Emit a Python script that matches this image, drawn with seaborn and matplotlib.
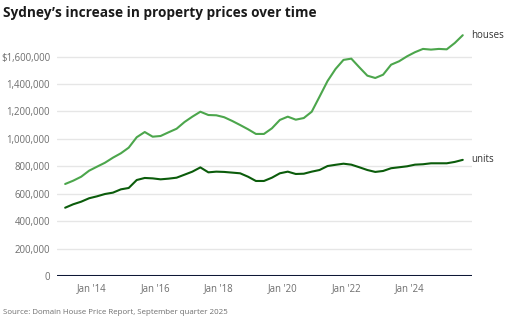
import matplotlib
matplotlib.use("Agg")
import matplotlib.pyplot as plt
import matplotlib.dates as mdates
import matplotlib.ticker as mticker
import numpy as np
import pandas as pd
import seaborn as sns

# Quarterly median prices, March 2013 to September 2025
quarters = pd.date_range("2013-03-01", "2025-09-01", freq="3MS")

houses = [
    671000, 695000, 724000, 768000, 797000, 826000, 863000, 895000,
    936000, 1012000, 1050000, 1016000, 1021000, 1048000, 1074000, 1123000,
    1162000, 1198000, 1174000, 1172000, 1158000, 1131000, 1101000, 1070000,
    1036000, 1036000, 1077000, 1138000, 1162000, 1140000, 1152000, 1198000,
    1308000, 1422000, 1510000, 1576000, 1585000, 1522000, 1461000, 1444000,
    1468000, 1541000, 1566000, 1602000, 1632000, 1656000, 1651000, 1656000,
    1653000, 1699000, 1756000,
]
units = [
    498000, 523000, 542000, 567000, 581000, 598000, 608000, 632000,
    642000, 700000, 715000, 712000, 705000, 710000, 717000, 739000,
    761000, 792000, 756000, 761000, 759000, 754000, 749000, 724000,
    693000, 693000, 717000, 749000, 761000, 744000, 746000, 761000,
    773000, 802000, 811000, 819000, 812000, 793000, 773000, 759000,
    766000, 786000, 793000, 800000, 812000, 815000, 822000, 822000,
    822000, 832000, 847000,
]

series_names = ["houses", "units"]
series_colors = {"houses": "#4ca64c", "units": "#0b5c0b"}
y_ticks = [0, 200000, 400000, 600000, 800000, 1000000, 1200000, 1400000, 1600000]
x_tick_years = [2014, 2016, 2018, 2020, 2022, 2024]

df = pd.DataFrame({"date": quarters, "houses": houses, "units": units})
long_df = df.melt(id_vars="date", value_vars=series_names,
                  var_name="type", value_name="price")

sns.set_theme(style="white")
plt.rcParams["font.family"] = ["Open Sans", "DejaVu Sans"]

fig = plt.figure(figsize=(5.18, 3.30), dpi=100)
ax = fig.add_axes([0.110, 0.1636, 0.801, 0.748])

sns.lineplot(data=long_df, x="date", y="price", hue="type",
             palette=series_colors, linewidth=1.5, legend=False, ax=ax)

ax.set_ylim(0, 1800000)
ax.set_xlim(pd.Timestamp("2012-11-27"), pd.Timestamp("2025-12-15"))

ax.set_yticks(y_ticks)
def fmt_y(v, pos):
    s = f"{int(v):,}"
    return "$" + s if v == y_ticks[-1] else s
ax.yaxis.set_major_formatter(mticker.FuncFormatter(fmt_y))
ax.set_xticks([pd.Timestamp(f"{y}-01-01") for y in x_tick_years])
ax.xaxis.set_major_formatter(mdates.DateFormatter("Jan '%y"))

ax.grid(axis="y", color="#e6e6e6", linewidth=1.0)
ax.set_axisbelow(True)
for side in ["top", "right", "left", "bottom"]:
    ax.spines[side].set_visible(False)
ax.axhline(0, color="#0e1836", linewidth=2.2, zorder=3)

ax.tick_params(axis="both", length=0, labelsize=6.9, labelcolor="#6e6e6e")
ax.tick_params(axis="y", pad=5)
ax.tick_params(axis="x", pad=5)
ax.set_xlabel("")
ax.set_ylabel("")

# Series labels at the end of each line
for name in series_names:
    ax.annotate(name, xy=(df["date"].iloc[-1], df[name].iloc[-1]),
                xytext=(6, 0), textcoords="offset points",
                va="center", ha="left", fontsize=7.0, color="#333333",
                annotation_clip=False)

fig.text(0.006, 0.962, "Sydney\u2019s increase in property prices over time",
         fontsize=9.8, fontweight="bold", color="#1a1a1a", va="center", ha="left")
fig.text(0.006, 0.052, "Source: Domain House Price Report, September quarter 2025",
         fontsize=5.7, color="#6e6e6e", va="center", ha="left")

fig.savefig("out.png", dpi=100)
